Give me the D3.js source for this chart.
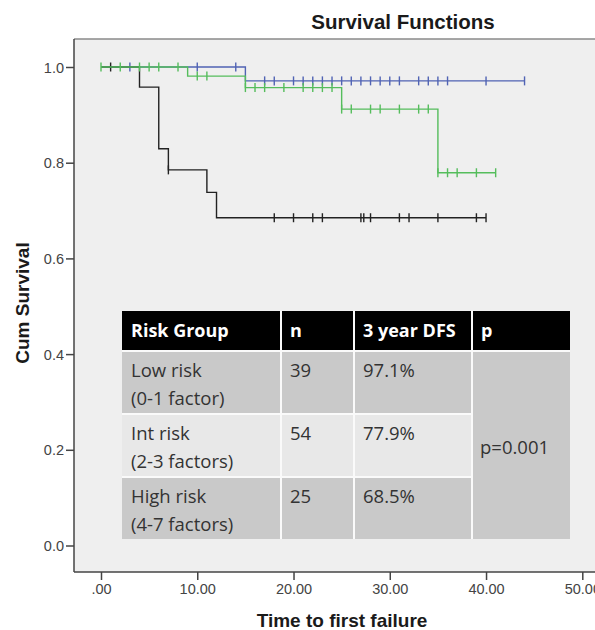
<!DOCTYPE html>
<html>
<head>
<meta charset="utf-8">
<script src="https://cdn.jsdelivr.net/npm/d3@7"></script>
<style>
  body { margin: 0; background: #fff; }
  text { font-family: "Liberation Sans", Arial, sans-serif; }
  .tbl text { font-family: "Open Sans", Lato, sans-serif; }
</style>
</head>
<body>
<div class="chart"></div>
<script>
// ---- data ----
// each group: steps [time, survival after the event], end of follow-up, censored times
var lowSteps = [[0, 1], [15, 0.971]];
var lowEnd = 44;
var lowCensor = [3, 10, 14, 17, 18, 20, 21, 22, 23, 24, 25, 26, 27, 28, 29, 30, 31, 33, 34, 35, 36, 40, 44];

var intSteps = [[0, 1], [9, 0.981], [15, 0.957], [25, 0.912], [35, 0.779]];
var intEnd = 41;
var intCensor = [0, 2, 4, 5, 6, 8, 10, 11, 15, 16, 17, 19, 21, 22, 23, 24, 25, 26, 28, 29, 31, 33, 34, 35, 36, 37, 39, 41];

var highSteps = [[0, 1], [4, 0.958], [6, 0.829], [7, 0.785], [11, 0.738], [12, 0.685]];
var highEnd = 40;
var highCensor = [1, 7, 18, 20, 22, 23, 27, 27.3, 28, 31, 32, 35, 39, 40];

var xTicks = [0, 10, 20, 30, 40, 50];
var yTicks = [0, 0.2, 0.4, 0.6, 0.8, 1.0];

// table contents
var tableHeaders = ["Risk Group", "n", "3 year DFS", "p"];
var groupNames = [["Low risk", "(0-1 factor)"], ["Int risk", "(2-3 factors)"], ["High risk", "(4-7 factors)"]];
var nValues = ["39", "54", "25"];
var dfsValues = ["97.1%", "77.9%", "68.5%"];
var pValue = "p=0.001";

// ---- layout ----
var width = 595, height = 630;
var box = {left: 74, top: 39, right: 600, bottom: 572};

var x = d3.scaleLinear().domain([0, 50]).range([101, 582.3]);
var y = d3.scaleLinear().domain([0, 1]).range([545.5, 67]);

var svg = d3.select(".chart").append("svg")
    .attr("width", width)
    .attr("height", height);

// plot background
svg.append("rect")
    .attr("x", box.left).attr("y", box.top)
    .attr("width", box.right - box.left).attr("height", box.bottom - box.top)
    .attr("fill", "#efefef");
svg.append("line")
    .attr("x1", box.left).attr("x2", box.right)
    .attr("y1", box.top).attr("y2", box.top)
    .attr("stroke", "#8a8a8a").attr("stroke-width", 1.5);

// title
svg.append("text")
    .attr("x", 403).attr("y", 29)
    .attr("text-anchor", "middle")
    .style("font-size", "20.5px").attr("font-weight", "bold")
    .attr("fill", "#1a1a1a")
    .text("Survival Functions");

// survival curves
var groups = [
    {steps: lowSteps, end: lowEnd, censor: lowCensor, color: "#5063b4"},
    {steps: highSteps, end: highEnd, censor: highCensor, color: "#222"},
    {steps: intSteps, end: intEnd, censor: intCensor, color: "#55bd5c"}
];

var line = d3.line()
    .x(function(d) { return x(d[0]); })
    .y(function(d) { return y(d[1]); })
    .curve(d3.curveStepAfter);

function survAt(steps, t) {
    var s = 1;
    steps.forEach(function(d) { if (d[0] <= t) s = d[1]; });
    return s;
}

groups.forEach(function(g) {
    var pts = g.steps.concat([[g.end, g.steps[g.steps.length - 1][1]]]);
    svg.append("path")
        .datum(pts)
        .attr("fill", "none")
        .attr("stroke", g.color)
        .attr("stroke-width", 1.4)
        .attr("d", line);

    svg.selectAll(null)
        .data(g.censor)
        .enter().append("line")
        .attr("x1", function(d) { return x(d); })
        .attr("x2", function(d) { return x(d); })
        .attr("y1", function(d) { return y(survAt(g.steps, d)) - 4.5; })
        .attr("y2", function(d) { return y(survAt(g.steps, d)) + 4.5; })
        .attr("stroke", g.color)
        .attr("stroke-width", 1.4);
});

// table
var cols = [122, 281, 354, 472, 570];
var headTop = 311, headBottom = 350;
var rowTops = [352, 415, 478], rowBottoms = [413, 476, 539];
var rowFills = ["#c9c9c9", "#e8e8e8", "#c9c9c9"];

var tbl = svg.append("g").attr("class", "tbl");

tbl.append("rect")
    .attr("x", cols[0]).attr("y", headTop)
    .attr("width", cols[4] - cols[0]).attr("height", rowBottoms[2] - headTop)
    .attr("fill", "#fafafa");

tableHeaders.forEach(function(h, i) {
    tbl.append("rect")
        .attr("x", cols[i] + (i ? 1 : 0)).attr("y", headTop)
        .attr("width", cols[i + 1] - cols[i] - (i ? 1 : 0) - (i < 3 ? 1 : 0))
        .attr("height", headBottom - headTop)
        .attr("fill", "#000");
    tbl.append("text")
        .attr("x", cols[i] + 9).attr("y", 337)
        .style("font-size", "18px").attr("font-weight", "bold")
        .attr("fill", "#fff")
        .text(h);
});

groupNames.forEach(function(name, r) {
    for (var c = 0; c < 3; c++) {
        tbl.append("rect")
            .attr("x", cols[c] + (c ? 1 : 0)).attr("y", rowTops[r])
            .attr("width", cols[c + 1] - cols[c] - (c ? 1 : 0) - 1)
            .attr("height", rowBottoms[r] - rowTops[r])
            .attr("fill", rowFills[r]);
    }
    var cell = [name, [nValues[r]], [dfsValues[r]]];
    cell.forEach(function(lines, c) {
        lines.forEach(function(t, k) {
            tbl.append("text")
                .attr("x", cols[c] + 9)
                .attr("y", rowTops[r] + 25 + k * 28)
                .style("font-size", "18.5px")
                .attr("fill", "#333")
                .text(t);
        });
    });
});

// merged p cell
tbl.append("rect")
    .attr("x", cols[3] + 1).attr("y", rowTops[0])
    .attr("width", cols[4] - cols[3] - 1).attr("height", rowBottoms[2] - rowTops[0])
    .attr("fill", "#c9c9c9");
tbl.append("text")
    .attr("x", cols[3] + 8).attr("y", 454)
    .style("font-size", "18.5px")
    .attr("fill", "#333")
    .text(pValue);

// axes
var yAxis = svg.append("g")
    .attr("transform", "translate(" + box.left + ",0)")
    .call(d3.axisLeft(y).tickValues(yTicks).tickFormat(d3.format(".1f")).tickSize(8).tickSizeOuter(0));
var xAxis = svg.append("g")
    .attr("transform", "translate(0," + box.bottom + ")")
    .call(d3.axisBottom(x).tickValues(xTicks)
        .tickFormat(function(d) { return d === 0 ? ".00" : d3.format(".2f")(d); })
        .tickSize(8).tickSizeOuter(0));

[yAxis, xAxis].forEach(function(a) {
    a.attr("font-size", null).attr("font-family", null);
    a.select(".domain").remove();
    a.selectAll(".tick line").attr("stroke", "#444").attr("stroke-width", 1.5);
    a.selectAll(".tick text")
        .style("font-size", "14.5px")
        .style("font-family", "'Liberation Sans', Arial, sans-serif")
        .attr("fill", "#444");
});
yAxis.selectAll(".tick text").attr("x", -10).attr("dy", "0.35em");
xAxis.selectAll(".tick text").attr("y", 12);

// axis lines
svg.append("line")
    .attr("x1", box.left).attr("x2", box.left)
    .attr("y1", box.top).attr("y2", box.bottom)
    .attr("stroke", "#444").attr("stroke-width", 1.5);
svg.append("line")
    .attr("x1", box.left).attr("x2", box.right)
    .attr("y1", box.bottom).attr("y2", box.bottom)
    .attr("stroke", "#444").attr("stroke-width", 1.5);

// axis titles
svg.append("text")
    .attr("x", 342).attr("y", 627)
    .attr("text-anchor", "middle")
    .style("font-size", "19px").attr("font-weight", "bold")
    .attr("fill", "#1a1a1a")
    .text("Time to first failure");
svg.append("text")
    .attr("transform", "translate(29,303) rotate(-90)")
    .attr("text-anchor", "middle")
    .style("font-size", "19px").attr("font-weight", "bold")
    .attr("fill", "#1a1a1a")
    .text("Cum Survival");
</script>
</body>
</html>
